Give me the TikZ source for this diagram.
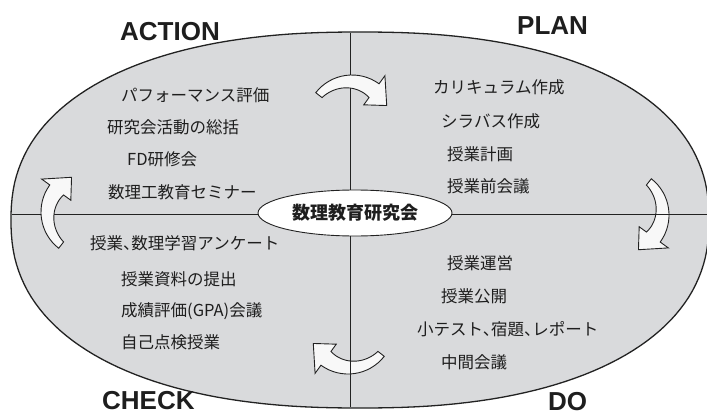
\documentclass[tikz,border=0pt]{standalone}
\usepackage{fontspec}
\usetikzlibrary{shapes.geometric}
\newfontfamily\jpfont{Noto Sans CJK JP}
\newfontfamily\jphalt{Noto Sans CJK JP}[RawFeature=+halt]
\newfontfamily\labfont{Liberation Sans}
\definecolor{ellfill}{HTML}{D9DADC}
\definecolor{edgecol}{HTML}{222222}
\definecolor{arrfill}{HTML}{F8F8F8}
\definecolor{txtcol}{HTML}{1E1E1E}
\newcommand\cycarrow[4][arrowsty]{%
  \begin{scope}[shift={(#2,#3)}, rotate=#4, yscale=-1]
    \path[#1] (142:46) arc[start angle=142, end angle=54, radius=46]
      -- (54:56) -- (24:38) -- (54:20) -- (54:29)
      -- plot[domain=54:142, samples=30, variable=\a] (\a:{29+9*(\a-54)/88})
      -- cycle;
  \end{scope}}
\begin{document}
\begin{tikzpicture}[x=1pt,y=-1pt,
  item/.style={anchor=west, inner sep=0pt, font=\jpfont\fontsize{16.5}{18}\selectfont, text=txtcol},
  itemh/.style={item, font=\jphalt\fontsize{16.5}{18}\selectfont},
  phase/.style={anchor=west, inner sep=0pt, font=\labfont\bfseries\fontsize{26}{28}\selectfont, text=txtcol},
  divline/.style={draw=edgecol, line width=0.9pt},
  arrowsty/.style={fill=arrfill, draw=edgecol, line width=0.9pt},
  hubsty/.style={ellipse, draw=edgecol, line width=0.9pt, fill=white, minimum width=194pt, minimum height=46pt, inner sep=0pt, font=\jpfont\bfseries\fontsize{18}{20}\selectfont, text=txtcol}]
\useasboundingbox (0,0) rectangle (707,415);
% big cycle shape
\path[fill=ellfill, draw=edgecol, line width=1.3pt]
  plot[domain=1:359, samples=180, variable=\t]
  ({360+349*sign(cos(\t))*abs(cos(\t))^0.87}, {220+188*sign(sin(\t))*abs(sin(\t))^0.87}) -- cycle;
% arrows below lines
\cycarrow{623}{215}{-90}
\cycarrow{348}{328}{180}
% divider lines
\coordinate (topc) at (350,33);
\coordinate (botc) at (350,407);
\coordinate (leftc) at (11.5,214);
\coordinate (rightc) at (707,214);
\draw[divline] (topc) -- (botc);
\draw[divline] (leftc) -- (rightc);
% arrows above lines
\cycarrow{352}{121}{0}
\cycarrow{87}{212}{90}
% hub
\node[hubsty] (hub) at (355,213) {数理教育研究会};
% phase labels
\node[phase] (action) at (120,32) {ACTION};
\node[phase] (plan) at (517,26) {PLAN};
\node[phase] (check) at (102,401) {CHECK};
\node[phase] (do) at (548,402) {DO};
% action items
\node[item] (a1) at (121,95) {パフォーマンス評価};
\node[item] (a2) at (107,127) {研究会活動の総括};
\node[item] (a3) at (127,159) {FD研修会};
\node[item] (a4) at (108,192) {数理工教育セミナー};
% plan items
\node[item] (p1) at (433,87.5) {カリキュラム作成};
\node[item] (p2) at (441,121) {シラバス作成};
\node[item] (p3) at (447,154) {授業計画};
\node[item] (p4) at (447,186) {授業前会議};
% check items
\node[itemh] (c1) at (90,243) {授業、数理学習アンケート};
\node[item] (c2) at (121,279) {授業資料の提出};
\node[item] (c3) at (121,311) {成績評価(GPA)会議};
\node[item] (c4) at (121,342) {自己点検授業};
% do items
\node[item] (d1) at (447,263) {授業運営};
\node[item] (d2) at (441,296) {授業公開};
\node[itemh] (d3) at (417,329) {小テスト、宿題、レポート};
\node[item] (d4) at (441,362) {中間会議};
\end{tikzpicture}
\end{document}
